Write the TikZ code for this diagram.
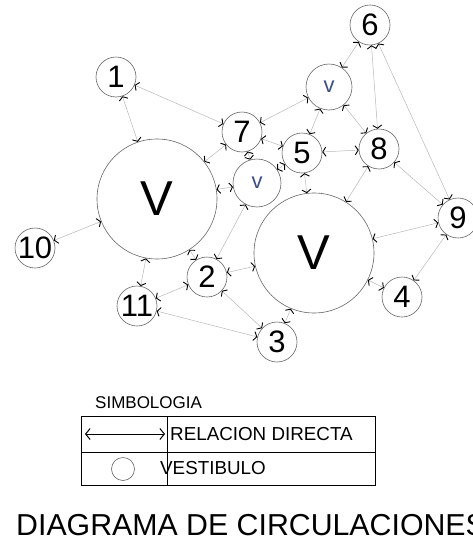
\documentclass[tikz,border=0pt]{standalone}
\usepackage{fontspec}
\setmainfont{Liberation Sans}
\usetikzlibrary{arrows.meta}

\definecolor{vtext}{RGB}{60,80,135}

\tikzset{
  sala/.style={circle, draw=black!60, line width=0.6pt, minimum size=40pt, inner sep=0pt,
    font=\fontsize{31}{31}\selectfont},
  vest/.style={circle, draw=black!60, line width=0.6pt, inner sep=0pt},
  rel/.style={draw=black!28, line width=0.5pt, <->},
}

\begin{document}
\begin{tikzpicture}[x=1pt,y=-1pt,>={Straight Barb[length=3pt,width=9pt,color=black,line width=0.9pt]}]
\useasboundingbox (0,0) rectangle (472,541);
% vestibulos
\node[vest, minimum size=120pt, font=\fontsize{49}{49}\selectfont] (VL) at (157,199) {V};
\node[vest, minimum size=120pt, font=\fontsize{49}{49}\selectfont] (VR) at (314,253) {V};
\node[vest, minimum size=46pt, text=vtext, font=\fontsize{22}{22}\selectfont] (vt) at (329,87) {v};
\node[vest, minimum size=48pt, text=vtext, font=\fontsize{22}{22}\selectfont] (vm) at (257,183) {v};
% espacios
\node[sala] (n1) at (116,77) {1};
\node[sala] (n2) at (207,277) {2};
\node[sala] (n3) at (277,342) {3};
\node[sala] (n4) at (402,297) {4};
\node[sala] (n5) at (302,153) {5};
\node[sala] (n6) at (370,25) {6};
\node[sala] (n7) at (242,132) {7};
\node[sala] (n8) at (379,149) {8};
\node[sala] (n9) at (458,218) {9};
\node[sala] (n10) at (35,248) {\makebox[0pt]{10}};
\node[sala] (n11) at (137,306) {\makebox[0pt]{11}};
% relaciones
\draw[rel] (n1) -- (n7);
\draw[rel] (n1) -- (VL);
\draw[rel] (n7) -- (VL);
\draw[rel] (vm) -- (VL);
\draw[rel] (n7) -- (vt);
\draw[rel] (n7) -- (n5);
\draw[rel] (n7) -- (vm);
\draw[rel] (vm) -- (n5);
\draw[rel] (vt) -- (n6);
\draw[rel] (vt) -- (n5);
\draw[rel] (vt) -- (n8);
\draw[rel] (n6) -- (n8);
\draw[rel] (n6) -- (n9);
\draw[rel] (n5) -- (n8);
\draw[rel] (n5) -- (VR);
\draw[rel] (n8) -- (VR);
\draw[rel] (n8) -- (n9);
\draw[rel] (VR) -- (n9);
\draw[rel] (n9) -- (n4);
\draw[rel] (VR) -- (n4);
\draw[rel] (VR) -- (n3);
\draw[rel] (vm) -- (n2);
\draw[rel] (VL) -- (n2);
\draw[rel] (n2) -- (VR);
\draw[rel] (n2) -- (n3);
\draw[rel] (n2) -- (n11);
\draw[rel] (n11) -- (n3);
\draw[rel] (n11) -- (VL);
\draw[rel] (n10) -- (VL);
% simbologia
\node[anchor=base west, font=\fontsize{17}{17}\selectfont, inner sep=0pt] (simb) at (95,408) {SIMBOLOGIA};
\draw[line width=0.8pt] (81,416) rectangle (375,485);
\draw[line width=0.8pt] (81,452) -- (375,452);
\draw[line width=0.8pt] (167,416) -- (167,485);
\coordinate (la) at (85,434);
\coordinate (lb) at (165,434);
\draw[{Straight Barb[length=4.5pt,width=11pt,line width=1pt]}-{Straight Barb[length=4.5pt,width=11pt,line width=1pt]}, line width=0.8pt] (la) -- (lb);
\node[anchor=base west, font=\fontsize{18.8}{18.8}\selectfont, inner sep=0pt] (rd) at (170,440) {RELACION DIRECTA};
\node[vest, minimum size=23pt] (lv) at (123,469) {};
\node[anchor=base west, font=\fontsize{18.8}{18.8}\selectfont, inner sep=0pt] (ve) at (160,474) {VESTIBULO};
% titulo
\node[anchor=base west, font=\fontsize{30.3}{30.3}\selectfont, inner sep=0pt] (tit) at (16,535) {DIAGRAMA DE CIRCULACIONES};
\end{tikzpicture}
\end{document}
